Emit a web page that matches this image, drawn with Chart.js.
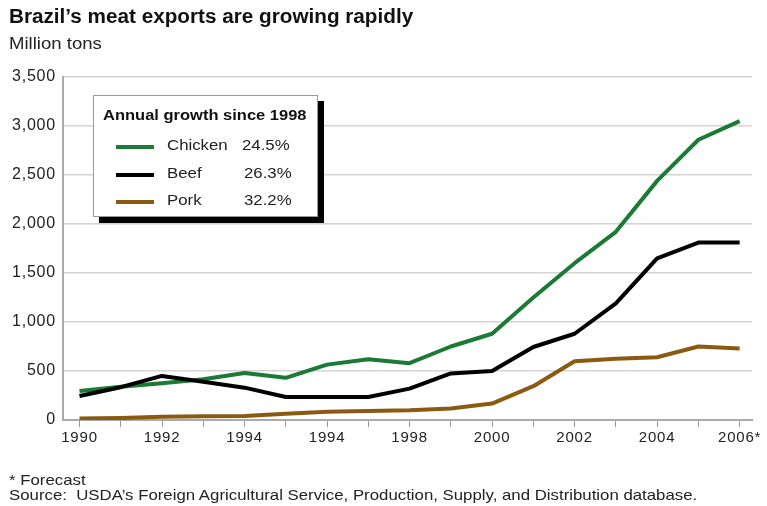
<!DOCTYPE html>
<html>
<head>
<meta charset="utf-8">
<script src="https://cdn.jsdelivr.net/npm/chart.js@4"></script>
<style>
  body { margin: 0; background: #fff; font-family: "Liberation Sans", Arial, sans-serif; color: #222; }
  #wrap { position: relative; width: 767px; height: 506px; overflow: hidden; }
  #chart { position: absolute; left: 0; top: 0; }
  .txt { position: absolute; white-space: nowrap; transform-origin: 0 50%; }
  #title { left: 9px; top: 5px; font-size: 20px; font-weight: bold; color: #111; transform: scaleX(1.035); }
  #unit { left: 9px; top: 35px; font-size: 16px; transform: scaleX(1.16); }
  #foot1 { left: 9px; top: 471px; font-size: 15px; transform: scaleX(1.12); }
  #foot2 { left: 9px; top: 486px; font-size: 15px; transform: scaleX(1.12); }
  #legend { position: absolute; left: 93px; top: 95px; width: 225px; height: 122px; background: #fff;
            border: 1px solid #999; box-shadow: 6px 6px 0 #000; box-sizing: border-box; font-size: 15px; }
  #legend .head { left: 9px; top: 10px; font-weight: bold; color: #111; transform: scaleX(1.1); }
  #legend .row { position: absolute; left: 0; height: 20px; width: 100%; }
  #legend .sw { position: absolute; left: 22px; top: 9px; width: 38px; height: 4px; }
  #legend .name { left: 73px; top: 0px; transform: scaleX(1.12); }
  #legend .pct { top: 0px; transform: scaleX(1.12); }
</style>
</head>
<body>
<div id="wrap">
  <canvas id="chart" width="767" height="506"></canvas>
  <div class="txt" id="title">Brazil’s meat exports are growing rapidly</div>
  <div class="txt" id="unit">Million tons</div>
  <div id="legend"></div>
  <div class="txt" id="foot1">* Forecast</div>
  <div class="txt" id="foot2">Source:&nbsp; USDA’s Foreign Agricultural Service, Production, Supply, and Distribution database.</div>
</div>
<script>
// data
const years = [1990, 1991, 1992, 1993, 1994, 1995, 1996, 1997, 1998, 1999, 2000, 2001, 2002, 2003, 2004, 2005, 2006];
const chicken = [295, 340, 375, 415, 480, 430, 565, 620, 580, 750, 880, 1250, 1600, 1920, 2440, 2860, 3050];
const beef = [245, 335, 450, 390, 330, 235, 235, 235, 320, 475, 500, 745, 880, 1190, 1650, 1810, 1810];
const pork = [15, 20, 32, 38, 42, 65, 85, 92, 100, 118, 168, 345, 600, 625, 640, 750, 730];
const xLabels = { 1990: '1990', 1992: '1992', 1994: '1994', 1996: '1994', 1998: '1998', 2000: '2000', 2002: '2002', 2004: '2004', 2006: '2006*' };
const yTicks = [0, 500, 1000, 1500, 2000, 2500, 3000, 3500];

const legendTitle = 'Annual growth since 1998';
const legendItems = [
    { name: 'Chicken', pct: '24.5%', color: '#1b7b36', pctX: 148 },
    { name: 'Beef', pct: '26.3%', color: '#000000', pctX: 150 },
    { name: 'Pork', pct: '32.2%', color: '#8a5a12', pctX: 150 }
];

// legend box
const legend = document.getElementById('legend');
legend.innerHTML = '<div class="txt head">' + legendTitle + '</div>';
legendItems.forEach((it, i) => {
    const row = document.createElement('div');
    row.className = 'row';
    row.style.top = (40 + i * 27.5) + 'px';
    row.innerHTML = '<div class="sw" style="background:' + it.color + '"></div>' +
        '<div class="txt name">' + it.name + '</div>' +
        '<div class="txt pct" style="left:' + it.pctX + 'px">' + it.pct + '</div>';
    legend.appendChild(row);
});

function toPoints(values) {
    return values.map((v, i) => ({ x: years[i], y: v }));
}

// the reference lettering is a bit wider than Liberation Sans
const wideText = {
    id: 'wideText',
    beforeDraw: chart => { chart.ctx.letterSpacing = '0.8px'; }
};

const ctx = document.getElementById('chart').getContext('2d');
new Chart(ctx, {
    type: 'line',
    data: {
        datasets: [
            { label: 'Pork', data: toPoints(pork), borderColor: legendItems[2].color },
            { label: 'Beef', data: toPoints(beef), borderColor: legendItems[1].color },
            { label: 'Chicken', data: toPoints(chicken), borderColor: legendItems[0].color }
        ]
    },
    plugins: [wideText],
    options: {
        responsive: false,
        animation: false,
        layout: { padding: { top: 77, right: 15, bottom: 50, left: 0 } },
        elements: {
            line: { borderWidth: 4, tension: 0, borderJoinStyle: 'round', borderCapStyle: 'butt' },
            point: { radius: 0, hoverRadius: 0 }
        },
        plugins: { legend: { display: false }, tooltip: { enabled: false } },
        scales: {
            x: {
                type: 'linear',
                min: 1989.6,
                max: 2006.3,
                afterBuildTicks: scale => { scale.ticks = years.map(y => ({ value: y })); },
                afterFit: scale => { scale.height = 36; },
                border: { display: true, color: '#aaa', width: 2 },
                grid: { drawOnChartArea: false, drawTicks: true, tickLength: 7, color: '#999', tickWidth: 1 },
                ticks: {
                    autoSkip: false,
                    maxRotation: 0,
                    padding: 2,
                    color: '#222',
                    font: { family: '"Liberation Sans", Arial, sans-serif', size: 15 },
                    callback: v => xLabels[v] || ''
                }
            },
            y: {
                min: 0,
                max: 3500,
                afterBuildTicks: scale => { scale.ticks = yTicks.map(v => ({ value: v })); },
                afterFit: scale => { scale.width = 63; },
                border: { display: true, color: '#aaa', width: 2 },
                grid: { color: '#d4d4d4', lineWidth: 1.5, drawTicks: false },
                ticks: {
                    padding: 7,
                    color: '#222',
                    font: { family: '"Liberation Sans", Arial, sans-serif', size: 16 },
                    callback: v => v.toLocaleString('en-US')
                }
            }
        }
    }
});
</script>
</body>
</html>
